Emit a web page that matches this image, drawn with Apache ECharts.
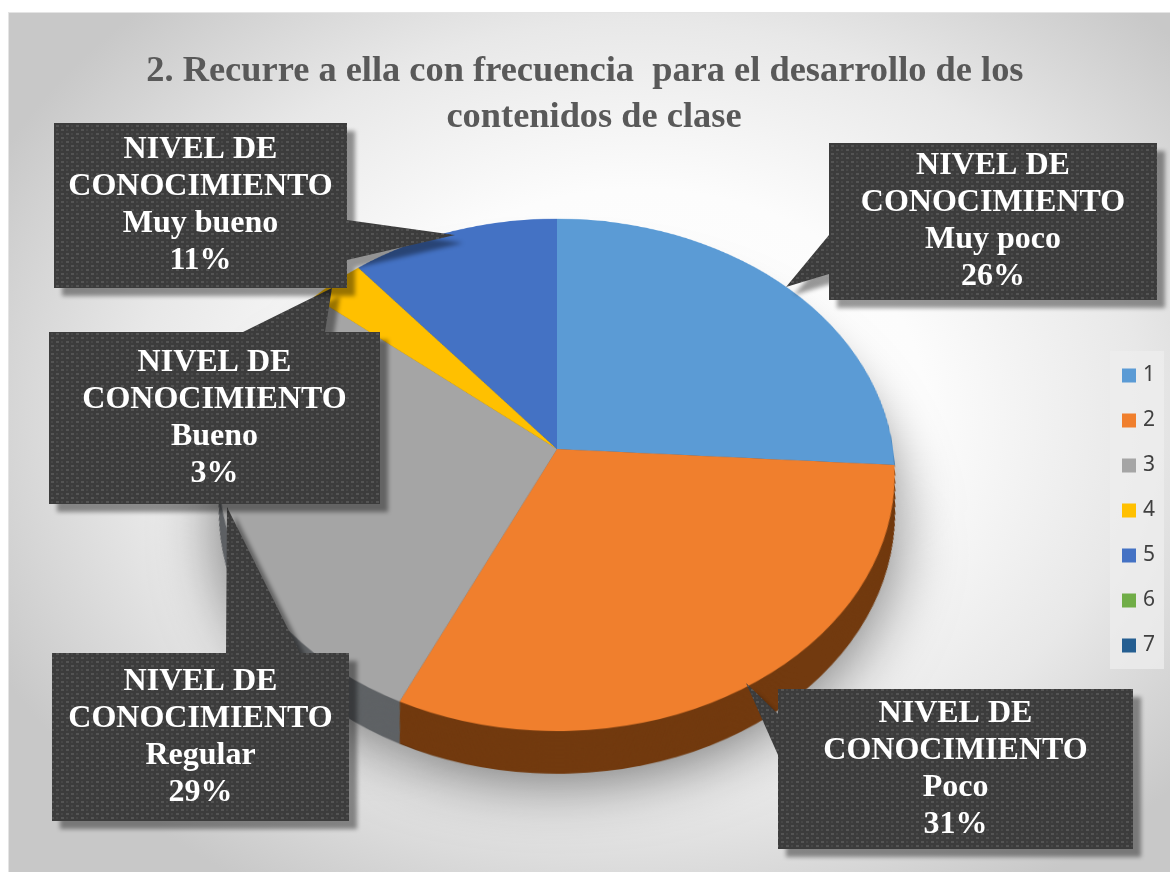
<!DOCTYPE html>
<html>
<head>
<meta charset="utf-8">
<script src="https://cdn.jsdelivr.net/npm/echarts@6/dist/echarts.min.js"></script>
<style>
html,body{margin:0;padding:0;width:1170px;height:872px;overflow:hidden;background:#fff}
#bg{position:absolute;left:8px;top:12px;width:1162px;height:860px;border-top:1px solid #e4e4e4;border-left:1px solid #e4e4e4;box-sizing:border-box;
background:radial-gradient(ellipse 720px 560px at 630px 400px,#ffffff 0%,#fcfcfc 40%,#e8e8e8 70%,#c8c8c8 100%)}
#pie{position:absolute;left:57px;top:-51px;width:1000px;height:1000px;transform-origin:500px 500px;transform:perspective(2180px) rotateX(41deg)}
#front{position:absolute;left:0;top:0;width:1170px;height:872px}
</style>
</head>
<body>
<div id="bg"></div>
<div id="pie"></div>
<div id="front"></div>
<script>
const titleText = '2. Recurre a ella con frecuencia  para el desarrollo de los  \ncontenidos de clase';
const categories = ['1','2','3','4','5','6','7'];
const values = [26,31,29,3,11,0,0];
const colors = ['#5b9bd5','#f07f2d','#a5a5a5','#ffc000','#4472c4','#70ad47','#255e91'];
const rimColors = ['#2f5f8c','#723a0f','#5f6265','#8a6800','#2a4880','#3f6428','#143452'];
const calloutPrefix = 'NIVEL DE\nCONOCIMIENTO';
const calloutLevels = ['Muy poco','Poco','Regular','Bueno','Muy bueno'];

const rimDepth = 50;
const radius = 336;
const series3d = [];
for (let d = rimDepth; d >= 1; d--) {
  series3d.push({
    type:'pie', silent:true, animation:false, center:[500,500+d], radius:[0,radius-d*0.1],
    startAngle:90, label:{show:false}, labelLine:{show:false},
    data:categories.map((c,i)=>({name:c,value:values[i],itemStyle:Object.assign({color:rimColors[i]},
      d===rimDepth?{shadowBlur:60,shadowColor:'rgba(0,0,0,0.5)',shadowOffsetY:10}:{})}))
  });
}
series3d.push({
  type:'pie', silent:true, animation:false, center:[500,500], radius:[0,radius],
  startAngle:90, label:{show:false}, labelLine:{show:false},
  data:categories.map((c,i)=>({name:c,value:values[i],itemStyle:{color:colors[i]}}))
});
echarts.init(document.getElementById('pie'),null,{renderer:'canvas'}).setOption({animation:false,series:series3d});

function dotPattern(){
  const c=document.createElement('canvas');c.width=10;c.height=8;
  const g=c.getContext('2d');
  g.fillStyle='#3c3c3c';g.fillRect(0,0,10,8);
  g.fillStyle='#545454';
  g.fillRect(1,1,3,2);g.fillRect(6,5,3,2);
  g.fillStyle='#464646';
  g.fillRect(6,1,2,2);g.fillRect(1,5,2,2);
  return c;
}
const pattern={image:dotPattern(),repeat:'repeat'};
const boxes=[
 {i:0,b:[829,143,1157,300],tail:[[829,235],[786,287],[829,274]],side:'l'},
 {i:1,b:[778,689,1133,849],tail:[[778,714],[746,683],[778,755]],side:'l'},
 {i:2,b:[52,653,349,821],tail:[[226,653],[227,507],[300,653]],side:'t'},
 {i:3,b:[49,332,380,504],tail:[[243,332],[332,288],[325,332]],side:'t'},
 {i:4,b:[54,123,347,288],tail:[[347,220],[455,235],[347,260]],side:'r'}
];
const graphics=[];
boxes.forEach(o=>{
  const [x0,y0,x1,y1]=o.b; let pts;
  if(o.side==='l') pts=[[x0,y0],[x1,y0],[x1,y1],[x0,y1],o.tail[2],o.tail[1],o.tail[0]];
  if(o.side==='r') pts=[[x0,y0],[x1,y0],o.tail[0],o.tail[1],o.tail[2],[x1,y1],[x0,y1]];
  if(o.side==='t') pts=[[x0,y0],o.tail[0],o.tail[1],o.tail[2],[x1,y0],[x1,y1],[x0,y1]];
  graphics.push({type:'polygon',silent:true,shape:{points:pts},
    style:{fill:pattern,shadowBlur:4,shadowOffsetX:8,shadowOffsetY:8,shadowColor:'rgba(0,0,0,0.4)'}});
});
boxes.forEach(o=>{
  const [x0,y0,x1,y1]=o.b;
  graphics.push({type:'text',silent:true,x:(x0+x1)/2,y:(y0+y1)/2,
    style:{text:calloutPrefix+'\n'+calloutLevels[o.i]+'\n'+values[o.i]+'%',
      fill:'#ffffff',font:'bold 32px "Liberation Serif"',lineHeight:37,align:'center',verticalAlign:'middle'}});
});

echarts.init(document.getElementById('front'),null,{renderer:'canvas'}).setOption({
  animation:false,
  backgroundColor:'transparent',
  title:{text:titleText,left:589,top:44,textAlign:'center',
    textStyle:{fontFamily:'Liberation Serif',fontWeight:'bold',fontSize:36.4,color:'#595959',lineHeight:46}},
  legend:{orient:'vertical',left:1110,top:351,padding:[14,9,13,12],itemWidth:14,itemHeight:14,itemGap:24,
    backgroundColor:'rgba(238,238,238,0.75)',icon:'rect',
    textStyle:{fontFamily:'Noto Sans',fontSize:21,color:'#404040',padding:[0,0,0,2]},
    data:categories},
  series:[{type:'pie',silent:true,radius:[0,0],center:[-50,-50],label:{show:false},labelLine:{show:false},
    data:categories.map((c,i)=>({name:c,value:values[i],itemStyle:{color:colors[i]}}))}],
  graphic:graphics
});
</script>
</body>
</html>
